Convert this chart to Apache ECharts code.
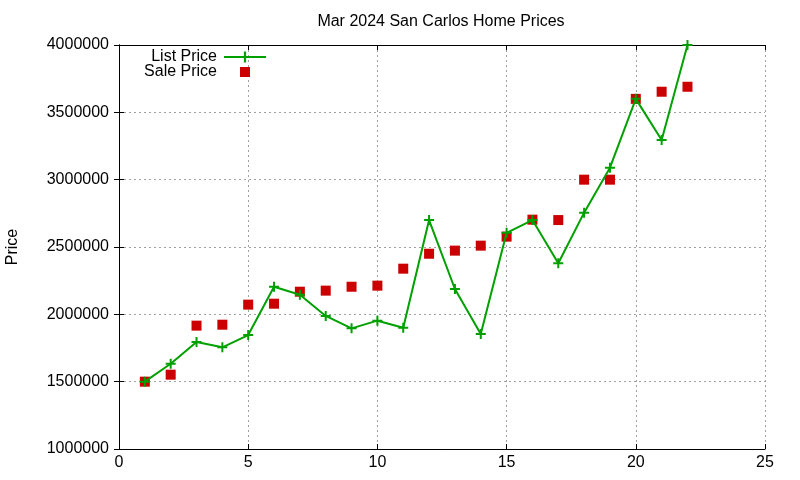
<!DOCTYPE html>
<html>
<head>
<meta charset="utf-8">
<script src="https://cdn.jsdelivr.net/npm/echarts@6/dist/echarts.min.js"></script>
<style>html,body{margin:0;padding:0;background:#fff}#c{width:800px;height:480px}</style>
</head>
<body>
<div id="c"></div>
<script>
const months = [1,2,3,4,5,6,7,8,9,10,11,12,13,14,15,16,17,18,19,20,21,22];
const listPrice = [1500000,1633000,1795000,1755000,1846000,2205000,2145000,1988000,1896000,1953000,1900000,2700000,2188000,1854000,2605000,2700000,2379000,2755000,3089000,3600000,3295000,4000000];
const salePrice = [1500000,1552000,1916000,1923000,2072000,2079000,2168000,2176000,2205000,2213000,2339000,2450000,2473000,2510000,2577000,2703000,2700000,3000000,3000000,3600000,3653000,3690000];
const xTicks = [0,5,10,15,20,25];
const yTicks = [1000000,1500000,2000000,2500000,3000000,3500000,4000000];

const FONT = 'Liberation Sans, Arial, sans-serif';
const FS = 16;
const plus = 'path://M4,0 L6,0 L6,4 L10,4 L10,6 L6,6 L6,10 L4,10 L4,6 L0,6 L0,4 L4,4 Z';
const grid = { type: [2, 3], color: '#a0a0a0', width: 1 };
const chart = echarts.init(document.getElementById('c'), null, { renderer: 'canvas' });
const xMin = xTicks[0], xMax = xTicks[xTicks.length - 1], xInt = xTicks[1] - xTicks[0];
const yMin = yTicks[0], yMax = yTicks[yTicks.length - 1], yInt = yTicks[1] - yTicks[0];
chart.setOption({
  animation: false,
  backgroundColor: '#fff',
  title: {
    text: 'Mar 2024 San Carlos Home Prices',
    left: 436, top: 9, textAlign: 'center',
    textStyle: { fontFamily: FONT, fontSize: FS, fontWeight: 'normal', color: '#000' }
  },
  legend: [
    { data: ['List Price'], orient: 'vertical', align: 'right', right: 533, top: 49,
      itemWidth: 42, itemHeight: 14, padding: 0,
      textStyle: { fontFamily: FONT, fontSize: FS, color: '#000', padding: [0, 2, 0, 0] } },
    { data: [{ name: 'Sale Price', icon: 'rect' }], orient: 'vertical', align: 'right', right: 550, top: 64,
      itemWidth: 10, itemHeight: 10, padding: 0,
      textStyle: { fontFamily: FONT, fontSize: FS, color: '#000', padding: [0, 18, 0, 0] } }
  ],
  grid: { left: 119, right: 35, top: 45, bottom: 31, containLabel: false, outerBoundsMode: 'none' },
  xAxis: [
    { type: 'value', min: xMin, max: xMax, interval: xInt,
      axisLine: { show: true, lineStyle: { color: '#000', width: 1 } },
      axisTick: { show: true, inside: true, length: 5, lineStyle: { color: '#000' } },
      axisLabel: { fontFamily: FONT, fontSize: FS, color: '#000', margin: 6 },
      splitLine: { show: true, lineStyle: grid } },
    { type: 'value', position: 'top', min: xMin, max: xMax, interval: xInt,
      axisLine: { show: true, lineStyle: { color: '#000', width: 1 } },
      axisTick: { show: true, inside: true, length: 5, lineStyle: { color: '#000' } },
      axisLabel: { show: false }, splitLine: { show: false } }
  ],
  yAxis: [
    { type: 'value', min: yMin, max: yMax, interval: yInt,
      name: 'Price', nameLocation: 'middle', nameGap: 98, nameRotate: 90,
      nameTextStyle: { fontFamily: FONT, fontSize: FS, color: '#000' },
      axisLine: { show: true, lineStyle: { color: '#000', width: 1 } },
      axisTick: { show: true, inside: true, length: 5, lineStyle: { color: '#000' } },
      axisLabel: { fontFamily: FONT, fontSize: FS, color: '#000', margin: 10, formatter: v => String(v) },
      splitLine: { show: true, lineStyle: grid } },
    { type: 'value', position: 'right', min: yMin, max: yMax, interval: yInt,
      axisLine: { show: true, lineStyle: { color: '#000', width: 1 } },
      axisTick: { show: true, inside: true, length: 5, lineStyle: { color: '#000' } },
      axisLabel: { show: false }, splitLine: { show: false } }
  ],
  series: [
    { name: 'List Price', type: 'line', xAxisIndex: 0, yAxisIndex: 0,
      data: months.map((m, i) => [m, listPrice[i]]),
      symbol: plus, symbolSize: 10, showSymbol: true,
      lineStyle: { color: '#00a000', width: 2 },
      itemStyle: { color: '#00a000', opacity: 1 } },
    { name: 'Sale Price', type: 'scatter', xAxisIndex: 0, yAxisIndex: 0,
      data: months.map((m, i) => [m, salePrice[i]]),
      symbol: 'rect', symbolSize: 10,
      itemStyle: { color: '#cc0000', opacity: 1 } }
  ]
});
</script>
</body>
</html>
